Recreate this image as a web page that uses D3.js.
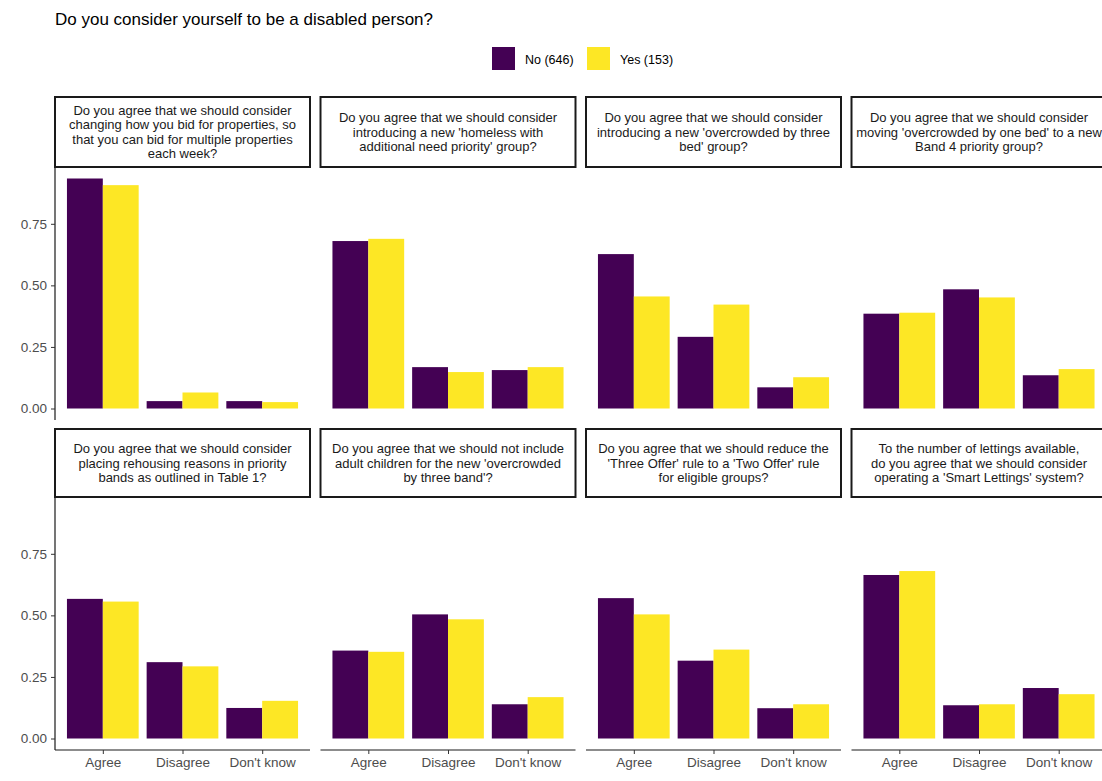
<!DOCTYPE html>
<html>
<head>
<meta charset="utf-8">
<script src="https://cdn.jsdelivr.net/npm/d3@7"></script>
<style>
  html, body { margin: 0; padding: 0; background: #fff; overflow: hidden; }
  svg { display: block; font-family: "Liberation Sans", Arial, sans-serif; }
</style>
</head>
<body>
<svg id="chart" width="1102" height="781"></svg>
<script>
// ---- data ----
const categories = ["Agree", "Disagree", "Don't know"];
const groups = ["No (646)", "Yes (153)"];
const groupColors = ["#440154", "#FDE725"];
const questions = [
  ["Do you agree that we should consider", "changing how you bid for properties, so", "that you can bid for multiple properties", "each week?"],
  ["Do you agree that we should consider", "introducing a new 'homeless with", "additional need priority' group?"],
  ["Do you agree that we should consider", "introducing a new 'overcrowded by three", "bed' group?"],
  ["Do you agree that we should consider", "moving 'overcrowded by one bed' to a new", "Band 4 priority group?"],
  ["Do you agree that we should consider", "placing rehousing reasons in priority", "bands as outlined in Table 1?"],
  ["Do you agree that we should not include", "adult children for the new 'overcrowded", "by three band'?"],
  ["Do you agree that we should reduce the", "'Three Offer' rule to a 'Two Offer' rule", "for eligible groups?"],
  ["To the number of lettings available,", "do you agree that we should consider", "operating a 'Smart Lettings' system?"]
];
// values per question: [Agree, Disagree, Don't know]
const valuesNo = [
  [0.934, 0.030, 0.030],
  [0.680, 0.168, 0.156],
  [0.627, 0.291, 0.086],
  [0.385, 0.484, 0.135],
  [0.567, 0.310, 0.124],
  [0.357, 0.504, 0.139],
  [0.570, 0.316, 0.123],
  [0.664, 0.135, 0.205]
];
const valuesYes = [
  [0.907, 0.065, 0.026],
  [0.689, 0.148, 0.168],
  [0.455, 0.422, 0.127],
  [0.389, 0.451, 0.160],
  [0.556, 0.293, 0.153],
  [0.352, 0.484, 0.168],
  [0.504, 0.361, 0.139],
  [0.680, 0.139, 0.180]
];
const yTicks = [0, 0.25, 0.5, 0.75];
const title = "Do you consider yourself to be a disabled person?";

// ---- layout ----
const svg = d3.select("#chart");
const panelLeft0 = 55, panelW = 255, panelGap = 10.5;
const rowsTop = [97, 429];   // strip tops
const stripH = 70, stripH2 = 68;
const panelH = 253;

const maxV = d3.max(valuesNo.concat(valuesYes).flat());
const yDomain = [-0.05 * maxV, maxV * 1.05];

// ggplot discrete expansion: centers at 0.6 step from edges
const step = panelW / (categories.length - 1 + 1.2);
const xs = d3.scalePoint().domain(categories).range([step * 0.6, panelW - step * 0.6]);
const barW = step * 0.9;
const xg = d3.scaleBand().domain(groups).range([-barW / 2, barW / 2]);
const color = d3.scaleOrdinal().domain(groups).range(groupColors);

// title
svg.append("text").attr("x", 55).attr("y", 25)
  .attr("font-size", 17).attr("fill", "#000").text(title);

// legend
const legend = svg.append("g");
const legX = [492, 587];
groups.forEach((g, i) => {
  const lg = legend.append("g").attr("transform", `translate(${legX[i]},47)`);
  lg.append("rect").attr("width", 23).attr("height", 23).attr("fill", color(g));
  lg.append("text").attr("x", 33).attr("y", 16.5).attr("font-size", 12.5)
    .attr("fill", "#000").text(g);
});

questions.forEach((q, qi) => {
  const row = Math.floor(qi / 4), col = qi % 4;
  const left = panelLeft0 + col * (panelW + panelGap);
  const sTop = rowsTop[row];
  const sH = row === 0 ? stripH : stripH2;
  const pTop = sTop + sH;
  const pBottom = pTop + panelH;
  const y = d3.scaleLinear().domain(yDomain).range([pBottom, pTop]);

  const g = svg.append("g").attr("transform", `translate(${left},0)`);

  // strip
  g.append("rect").attr("x", 0).attr("y", sTop).attr("width", panelW).attr("height", sH)
    .attr("fill", "#fff").attr("stroke", "#1a1a1a").attr("stroke-width", 2);
  const lineH = 14.5;
  const tStart = sTop + sH / 2 - (q.length - 1) * lineH / 2 + 4.5;
  const st = g.append("text").attr("text-anchor", "middle").attr("font-size", 13).attr("fill", "#1a1a1a");
  q.forEach((line, li) => {
    st.append("tspan").attr("x", panelW / 2).attr("y", tStart + li * lineH).text(line);
  });

  // bars
  categories.forEach((c, ci) => {
    const vals = [valuesNo[qi][ci], valuesYes[qi][ci]];
    groups.forEach((grp, gi) => {
      g.append("rect")
        .attr("x", xs(c) + xg(grp))
        .attr("width", xg.bandwidth())
        .attr("y", y(vals[gi]))
        .attr("height", y(0) - y(vals[gi]))
        .attr("fill", color(grp));
    });
  });

  // y axis on first column
  if (col === 0) {
    const ax = g.append("g").call(d3.axisLeft(y).tickValues(yTicks).tickFormat(d3.format(".2f")).tickSize(4).tickSizeOuter(0));
    ax.select(".domain").attr("stroke", "#1a1a1a").attr("stroke-width", 1.2)
      .attr("d", `M0,${pTop}V${pBottom}`);
    ax.selectAll(".tick line").attr("stroke", "#333");
    ax.selectAll(".tick text").attr("font-size", 13.5).attr("fill", "#4d4d4d")
      .attr("font-family", "Liberation Sans, Arial, sans-serif").attr("x", -8);
  }
  // x axis on bottom row
  if (row === 1) {
    const ax = g.append("g").attr("transform", `translate(0,${pBottom})`)
      .call(d3.axisBottom(xs).tickSize(4).tickSizeOuter(0));
    ax.select(".domain").attr("stroke", "#1a1a1a").attr("stroke-width", 1.2)
      .attr("d", `M0,0H${panelW}`);
    ax.selectAll(".tick line").attr("stroke", "#333");
    ax.selectAll(".tick text").attr("font-size", 13.5).attr("fill", "#4d4d4d")
      .attr("font-family", "Liberation Sans, Arial, sans-serif").attr("y", 7);
  }
});
</script>
</body>
</html>
